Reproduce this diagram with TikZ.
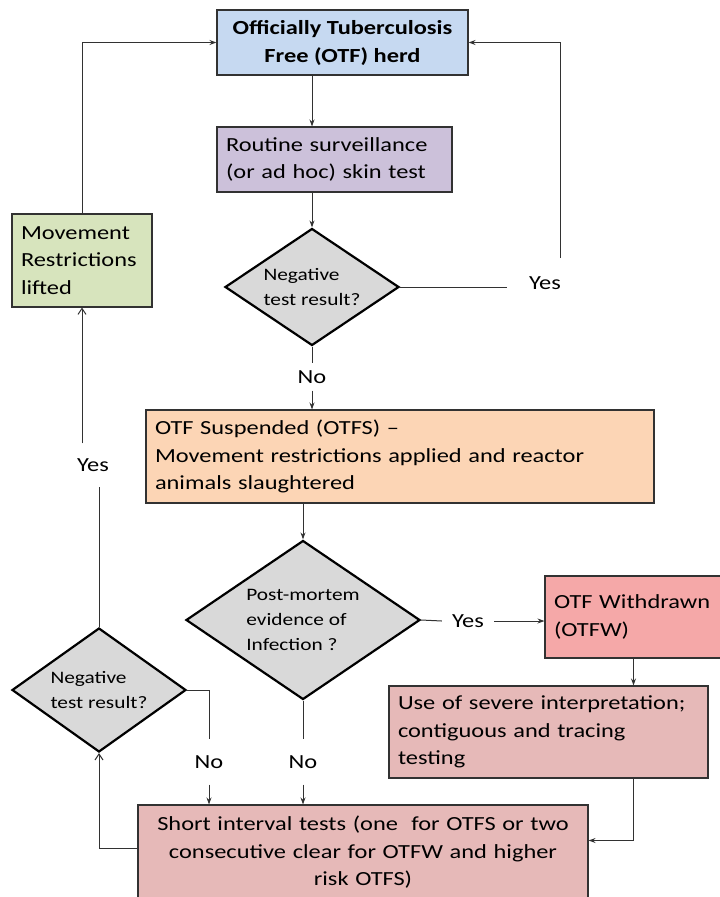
\documentclass[tikz,border=0pt]{standalone}
\usepackage{fontspec}
\setmainfont{Carlito}[FakeStretch=1.22]
\usetikzlibrary{positioning}
\usetikzlibrary{shapes.geometric}
\usetikzlibrary{arrows.meta}
\definecolor{otfblue}{RGB}{198,217,241}
\definecolor{routinepurple}{RGB}{204,193,218}
\definecolor{liftgreen}{RGB}{215,228,189}
\definecolor{suspendorange}{RGB}{252,213,181}
\definecolor{withdrawnred}{RGB}{245,168,168}
\definecolor{severepink}{RGB}{230,185,184}
\definecolor{decisiongrey}{RGB}{217,217,217}
\definecolor{linegrey}{RGB}{50,50,50}
\tikzset{
  stagebox/.style={draw=linegrey, line width=1.1pt, rectangle, inner xsep=9pt,
    font=\fontsize{20}{27.5}\selectfont},
  decision/.style={draw=black, line width=2.2pt, diamond, fill=decisiongrey,
    inner sep=0pt, shape aspect=1.5, align=left, font=\fontsize{17.5}{25}\selectfont},
  answer/.style={inner sep=7pt, font=\fontsize{20}{24}\selectfont},
  arr/.style={draw=linegrey, line width=1pt, -{Stealth[length=7pt,width=5pt]}},
  openarr/.style={draw=linegrey, line width=1pt, -{Straight Barb[length=6pt,width=8pt]}},
  plain/.style={draw=linegrey, line width=1pt}
}

\begin{document}
\begin{tikzpicture}[x=1pt,y=-1pt]
\useasboundingbox (0,0) rectangle (720,897);

% ================= Boxes =================
\node[stagebox, fill=otfblue, minimum width=251pt, minimum height=65pt,
  align=center, font=\fontsize{20}{28}\selectfont\bfseries] (otf) at (342.5,42.5)
  {Officially Tuberculosis\\Free (OTF) herd};

\node[stagebox, fill=routinepurple, minimum width=235pt, minimum height=65pt,
  text width=217pt, align=left] (routine) at (334.5,159.5)
  {Routine surveillance\\(or ad hoc) skin test};

\node[stagebox, fill=liftgreen, minimum width=140pt, minimum height=93pt,
  text width=122pt, align=left] (lifted) at (82,260.5)
  {Movement\\Restrictions\\lifted};

\node[stagebox, fill=suspendorange, minimum width=508pt, minimum height=93pt,
  text width=490pt, align=left] (otfs) at (400,456.5)
  {OTF Suspended (OTFS) --\\Movement restrictions applied and reactor\\animals slaughtered};

\node[stagebox, fill=withdrawnred, minimum width=177pt, minimum height=82pt,
  text width=159pt, align=left] (otfw) at (633.5,617)
  {OTF Withdrawn\\(OTFW)};

\node[stagebox, fill=severepink, minimum width=319pt, minimum height=92pt,
  text width=301pt, align=left] (severe) at (548.5,732)
  {Use of severe interpretation;\\contiguous and tracing\\testing};

\node[stagebox, fill=severepink, minimum width=450pt, minimum height=95pt,
  text width=432pt, align=center] (short) at (363,852.5)
  {Short interval tests (one\ \ for OTFS or two\\consecutive clear for OTFW and higher\\risk OTFS)};

% ================= Decisions =================
\node[decision, minimum width=174pt, minimum height=117pt] (negtop) at (312,287)
  {Negative\\test result?};

\node[decision, minimum width=234pt, minimum height=159pt] (postmortem) at (303,620)
  {Post-mortem\\evidence of\\Infection ?};

\node[decision, shape aspect=1.4, minimum width=174pt, minimum height=124pt] (negleft) at (99,690)
  {Negative\\test result?};

% ================= Answers =================
\node[answer, inner xsep=22pt] (yestop) at (545,283) {Yes};
\node[answer] (notop) at (312,377) {No};
\node[answer, inner ysep=15pt] (yesleft) at (93,465) {Yes};
\node[answer, inner xsep=10pt] (yesmid) at (468,621) {Yes};
\node[answer, inner ysep=16pt] (noleft) at (209,762) {No};
\node[answer, inner ysep=16pt] (nomid) at (303,762) {No};
\coordinate (yesup) at (560,258);

% ================= Connectors =================
\draw[arr] (otf.south -| negtop.north) -- (routine.north -| negtop.north);
\draw[arr] (routine.south -| negtop.north) -- (negtop.north);
\draw[plain] (negtop.east) -- (negtop.east -| yestop.west);
\draw[arr] (yesup) |- (otf.east);
\draw[plain] (negtop.south) -- (notop.north);
\draw[arr] (notop.south) -- (otfs.north -| notop.south);
\draw[arr] (otfs.south -| postmortem.north) -- (postmortem.north);
\draw[plain] (postmortem.east) -- (yesmid.west);
\draw[arr] (yesmid.east) -- (otfw.west |- yesmid.east);
\draw[arr] (otfw.south) -- (severe.north -| otfw.south);
\draw[arr] (severe.south -| otfw.south) |- ([yshift=12pt]short.east);
\draw[plain] (postmortem.south) -- (nomid.north);
\draw[arr] (nomid.south) -- (short.north -| nomid.south);
\draw[plain] (negleft.east) -| (noleft.north);
\draw[arr] (noleft.south) -- (short.north -| noleft.south);
\draw[openarr] ([yshift=4pt]short.west) -| (negleft.south);
\draw[plain] (negleft.north) -- (yesleft.south -| negleft.north);
\draw[openarr] (yesleft.north -| lifted.south) -- (lifted.south);
\draw[arr] (lifted.north) |- (otf.west);
\end{tikzpicture}
\end{document}
